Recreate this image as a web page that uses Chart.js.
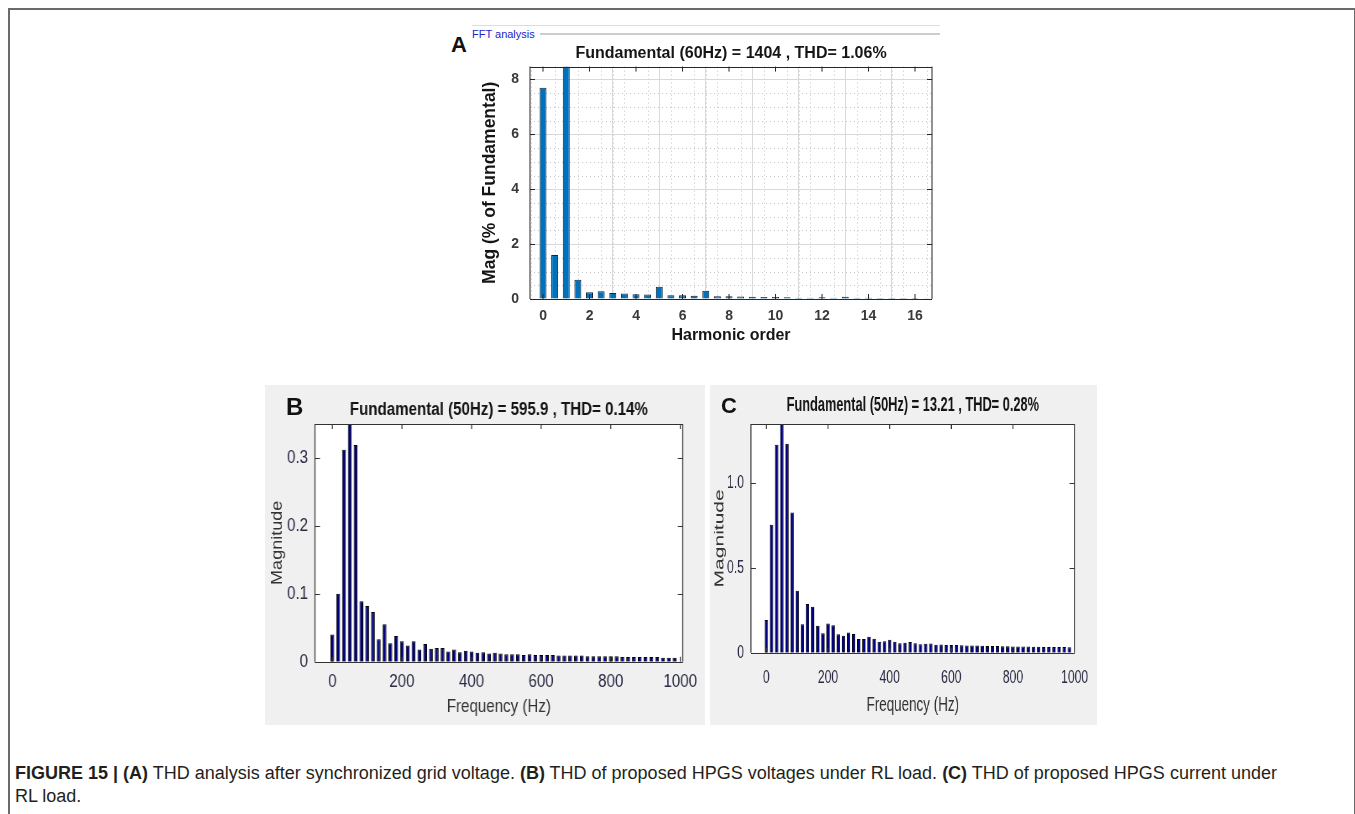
<!DOCTYPE html>
<html><head><meta charset="utf-8">
<script src="https://cdn.jsdelivr.net/npm/chart.js@4.4.1/dist/chart.umd.min.js"></script>
<style>
body{margin:0;background:#fff;width:1355px;height:814px;overflow:hidden;position:relative;font-family:"Liberation Sans",Arial,sans-serif;}
.abs{position:absolute}
#frame{left:8px;top:8px;width:1344px;height:900px;border-left:2px solid #6a6a6a;border-top:2px solid #6a6a6a;border-right:2px solid #6a6a6a;}
#panelB{left:265px;top:385px;width:440px;height:340px;background:#f0f0f0}
#panelC{left:710px;top:385px;width:387px;height:340px;background:#f0f0f0}
.letter{position:absolute;font-weight:bold;color:#111;font-family:"Liberation Sans",Arial,sans-serif;line-height:1}
#fft{left:472px;top:29px;font:11px/1 "Liberation Sans",Arial,sans-serif;color:#2323c8}
#ln1{left:472px;top:25px;width:468px;height:1px;background:#dcdcdc}
#ln2{left:540px;top:33px;width:400px;height:2px;background:#cdcdcd}
#cap{left:15px;top:762px;width:1320px;font:18px/23px "Liberation Sans",Arial,sans-serif;color:#231f20;white-space:nowrap}
</style></head><body>
<div id="frame" class="abs"></div>
<div id="ln1" class="abs"></div>
<div id="ln2" class="abs"></div>
<div id="fft" class="abs">FFT analysis</div>
<div class="letter" style="left:451px;top:34px;font-size:22px">A</div>
<canvas id="cA" class="abs" style="left:440px;top:40px" width="510" height="310"></canvas>
<div id="panelB" class="abs"><canvas id="cB" class="abs" style="left:0;top:0;width:440px;height:340px" width="524" height="340"></canvas></div>
<div id="panelC" class="abs"><canvas id="cC" class="abs" style="left:0;top:0;width:387px;height:340px" width="605" height="340"></canvas></div>
<div class="letter" style="left:286px;top:395px;font-size:24px">B</div>
<div class="letter" style="left:721px;top:395px;font-size:22px">C</div>
<div id="cap" class="abs"><b>FIGURE 15 | (A)</b> THD analysis after synchronized grid voltage. <b>(B)</b> THD of proposed HPGS voltages under RL load. <b>(C)</b> THD of proposed HPGS current under<br>RL load.</div>
<script>
// ---------- Panel A data ----------
const titleA = 'Fundamental (60Hz) = 1404 , THD= 1.06%';
const harmonicOrderA = [0,0.5,1,1.5,2,2.5,3,3.5,4,4.5,5,5.5,6,6.5,7,7.5,8,8.5,9,9.5,10,10.5,11,11.5,12,12.5,13,13.5,14,14.5,15,15.5,16,16.5];
const magA = [7.7,1.6,8.47,0.7,0.25,0.28,0.22,0.2,0.17,0.16,0.45,0.14,0.14,0.12,0.3,0.1,0.1,0.09,0.08,0.07,0.07,0.06,0.05,0.05,0.06,0.05,0.08,0.05,0.05,0.04,0.04,0.04,0.04,0.03];
const xTicksA = [0,2,4,6,8,10,12,14,16];
const xTickLabelsA = ['0','2','4','6','8','10','12','14','16'];
const yTicksA = [0,2,4,6,8];
const yTickLabelsA = ['0','2','4','6','8'];

// ---------- Panels B / C data ----------
const titleB = 'Fundamental (50Hz) = 595.9 , THD= 0.14%';
const titleC = 'Fundamental (50Hz) = 13.21 , THD= 0.28%';
const freqHz = [0,16.7,33.3,50,66.7,83.3,100,116.7,133.3,150,166.7,183.3,200,216.7,233.3,250,266.7,283.3,300,316.7,333.3,350,366.7,383.3,400,416.7,433.3,450,466.7,483.3,500,516.7,533.3,550,566.7,583.3,600,616.7,633.3,650,666.7,683.3,700,716.7,733.3,750,766.7,783.3,800,816.7,833.3,850,866.7,883.3,900,916.7,933.3,950,966.7,983.3];
const magB = [0.040,0.100,0.312,0.35,0.319,0.089,0.082,0.073,0.033,0.055,0.027,0.038,0.030,0.024,0.030,0.018,0.026,0.019,0.020,0.020,0.015,0.018,0.014,0.016,0.015,0.013,0.014,0.012,0.013,0.012,
  0.011,0.011,0.011,0.010,0.011,0.010,0.010,0.010,0.010,0.009,0.009,0.009,0.009,0.009,0.008,0.008,0.008,0.008,0.008,0.008,0.007,0.007,0.007,0.007,0.007,0.007,0.007,0.006,0.006,0.006];
const magC = [0.192,0.753,1.223,1.345,1.229,0.824,0.364,0.168,0.286,0.270,0.159,0.115,0.172,0.162,0.108,0.100,0.119,0.110,0.080,0.080,0.094,0.082,0.065,0.068,0.076,0.065,0.055,0.059,0.063,0.055,
  0.050,0.052,0.054,0.047,0.048,0.046,0.045,0.045,0.044,0.043,0.042,0.042,0.041,0.040,0.040,0.039,0.038,0.038,0.037,0.037,0.036,0.036,0.035,0.035,0.034,0.034,0.034,0.033,0.033,0.032];
const xTicksHz = [0,200,400,600,800,1000];
const xTickLabelsHz = ['0','200','400','600','800','1000'];
const yTicksB = [0,0.1,0.2,0.3];
const yTickLabelsB = ['0','0.1','0.2','0.3'];
const yTicksC = [0,0.5,1.0];
const yTickLabelsC = ['0','0.5','1.0'];

// ---------- Plugin: plot background, minor grid, box, inward ticks ----------
const mframe = {
  id: 'mframe',
  beforeDraw(chart, args, o) {
    const {ctx, chartArea: a} = chart;
    const xs = chart.scales.x, ys = chart.scales.y;
    ctx.save();
    ctx.fillStyle = '#ffffff';
    ctx.fillRect(a.left, a.top, a.right - a.left, a.bottom - a.top);
    if (o.minor) {
      ctx.strokeStyle = o.minor.color; ctx.lineWidth = 1; ctx.setLineDash(o.minor.dash);
      const isMajor = (v, m) => Math.abs(v / m - Math.round(v / m)) < 1e-6;
      for (let k = Math.ceil(xs.min / o.minor.x); k * o.minor.x <= xs.max; k++) {
        const v = k * o.minor.x; if (isMajor(v, o.minor.majorX)) continue;
        const p = Math.round(xs.getPixelForValue(v)) + 0.5;
        ctx.beginPath(); ctx.moveTo(p, a.top); ctx.lineTo(p, a.bottom); ctx.stroke();
      }
      for (let k = Math.ceil(ys.min / o.minor.y); k * o.minor.y <= ys.max; k++) {
        const v = k * o.minor.y; if (isMajor(v, o.minor.majorY)) continue;
        const p = Math.round(ys.getPixelForValue(v)) + 0.5;
        ctx.beginPath(); ctx.moveTo(a.left, p); ctx.lineTo(a.right, p); ctx.stroke();
      }
    }
    ctx.restore();
  },
  afterDatasetsDraw(chart, args, o) {
    const {ctx, chartArea: a} = chart;
    const xs = chart.scales.x, ys = chart.scales.y;
    const sx = o.sx || 1;           // horizontal squeeze applied by CSS
    const vw = 1 / sx;              // keeps vertical strokes ~1px after squeeze
    const L = o.tickLen;
    ctx.save();
    ctx.strokeStyle = o.color;
    ctx.lineWidth = vw; ctx.beginPath();
    xs.ticks.forEach(t => {
      const p = xs.getPixelForValue(t.value);
      ctx.moveTo(p, a.bottom); ctx.lineTo(p, a.bottom - L);
      ctx.moveTo(p, a.top); ctx.lineTo(p, a.top + L);
    });
    ctx.moveTo(a.left, a.top); ctx.lineTo(a.left, a.bottom);
    ctx.moveTo(a.right, a.top); ctx.lineTo(a.right, a.bottom);
    ctx.stroke();
    ctx.lineWidth = 1; ctx.beginPath();
    ys.ticks.forEach(t => {
      const p = Math.round(ys.getPixelForValue(t.value)) + 0.5;
      ctx.moveTo(a.left, p); ctx.lineTo(a.left + L / sx, p);
      ctx.moveTo(a.right, p); ctx.lineTo(a.right - L / sx, p);
    });
    const tp = Math.round(a.top) + 0.5, bp = Math.round(a.bottom) + 0.5;
    ctx.moveTo(a.left, tp); ctx.lineTo(a.right, tp);
    ctx.moveTo(a.left, bp); ctx.lineTo(a.right, bp);
    ctx.stroke();
    ctx.restore();
  }
};
Chart.register(mframe);

function makeChart(id, cfg) {
  const fam = cfg.fontFamily;
  return new Chart(document.getElementById(id), {
    type: 'bar',
    data: { datasets: [{
      data: cfg.xs.map((x, i) => ({ x: x, y: cfg.ys[i] })),
      backgroundColor: cfg.fill, borderColor: cfg.edge, borderWidth: cfg.edgeW,
      barPercentage: cfg.barPct, categoryPercentage: 1
    }]},
    options: {
      responsive: false, animation: false, devicePixelRatio: 1,
      layout: { padding: { left: 0, right: cfg.padRight, top: cfg.padTop, bottom: 0 } },
      plugins: {
        legend: { display: false }, tooltip: { enabled: false },
        title: { display: true, text: cfg.title, fullSize: false, color: '#151515',
          font: { family: fam, size: cfg.titleSize, weight: 'bold' },
          padding: { top: 0, bottom: cfg.titleGap } },
        mframe: cfg.frame
      },
      scales: {
        x: {
          type: 'linear', min: cfg.xMin, max: cfg.xMax, offset: false,
          afterBuildTicks: s => { s.ticks = cfg.xTicks.map(v => ({ value: v })); },
          afterFit: s => { s.height = cfg.xAxisH; },
          grid: { display: cfg.grid, color: '#d9d9d9', drawTicks: false },
          border: { display: false },
          ticks: { autoSkip: false, maxRotation: 0, padding: cfg.xTickPad, color: cfg.tickColor,
            font: { family: fam, size: cfg.tickSize, weight: cfg.tickWeight },
            callback: (v, i) => cfg.xLabels[i] },
          title: { display: true, text: cfg.xTitle, color: cfg.axisTitleColor,
            font: { family: fam, size: cfg.xTitleSize, weight: cfg.tickWeight },
            padding: { top: 0, bottom: cfg.xTitlePad } }
        },
        y: {
          type: 'linear', min: 0, max: cfg.yMax,
          afterBuildTicks: s => { s.ticks = cfg.yTicks.map(v => ({ value: v })); },
          afterFit: s => { s.width = cfg.yAxisW; },
          grid: { display: cfg.grid, color: '#d9d9d9', drawTicks: false },
          border: { display: false },
          ticks: { autoSkip: false, padding: cfg.yTickPad, color: cfg.tickColor,
            font: { family: fam, size: cfg.tickSize, weight: cfg.tickWeight },
            callback: (v, i) => cfg.yLabels[i] },
          title: { display: true, text: cfg.yTitle, color: cfg.axisTitleColor,
            font: { family: fam, size: cfg.yTitleSize, weight: cfg.tickWeight },
            padding: { top: cfg.yTitlePad, bottom: 0 } }
        }
      }
    }
  });
}

const sans = '"Liberation Sans", Arial, sans-serif';
const sB = 440 / 524;   // horizontal squeeze of panel B canvas (condensed MATLAB look)
const sC = 387 / 605;   // horizontal squeeze of panel C canvas

makeChart('cA', {
  xs: harmonicOrderA, ys: magA, fill: '#0072BD', edge: '#14273a', edgeW: 1, barPct: 0.6,
  title: titleA, titleSize: 16, titleGap: 3.5, padTop: 3.9, padRight: 18,
  xMin: -0.56, xMax: 16.73, yMax: 8.47,
  xTicks: xTicksA, xLabels: xTickLabelsA, yTicks: yTicksA, yLabels: yTickLabelsA,
  xAxisH: 51, yAxisW: 90, grid: true,
  fontFamily: sans, tickSize: 14, tickWeight: 'bold', tickColor: '#3a3a3a',
  xTickPad: 9, yTickPad: 11,
  xTitle: 'Harmonic order', yTitle: 'Mag (% of Fundamental)', xTitleSize: 16, yTitleSize: 17.5, axisTitleColor: '#151515',
  xTitlePad: 4.5, yTitlePad: 39.5,
  frame: { color: '#262626', tickLen: 5, sx: 1, minor: { x: 0.5, y: 0.5, majorX: 2, majorY: 2, color: '#c4c4c4', dash: [1, 3] } }
});

makeChart('cB', {
  xs: freqHz, ys: magB, fill: '#000080', edge: '#000000', edgeW: 1, barPct: 0.66,
  title: titleB, titleSize: 18, titleGap: 3.2, padTop: 14.2, padRight: 22,
  xMin: -50, xMax: 1007, yMax: 0.35,
  xTicks: xTicksHz, xLabels: xTickLabelsHz, yTicks: yTicksB, yLabels: yTickLabelsB,
  xAxisH: 63.3, yAxisW: 59.5, grid: false,
  fontFamily: sans, tickSize: 18, tickWeight: 'normal', tickColor: '#2a2a44',
  xTickPad: 9.2, yTickPad: 8.3,
  xTitle: 'Frequency (Hz)', yTitle: 'Magnitude', xTitleSize: 18, yTitleSize: 18, axisTitleColor: '#333333',
  xTitlePad: 7.5, yTitlePad: 4.7,
  frame: { color: '#333333', tickLen: 5, sx: sB }
});

makeChart('cC', {
  xs: freqHz, ys: magC, fill: '#000080', edge: '#000000', edgeW: 1, barPct: 0.66,
  title: titleC, titleSize: 20, titleGap: 6.3, padTop: 8.7, padRight: 25.3,
  xMin: -50, xMax: 1000, yMax: 1.345,
  xTicks: xTicksHz, xLabels: xTickLabelsHz, yTicks: yTicksC, yLabels: yTickLabelsC,
  xAxisH: 72.3, yAxisW: 64, grid: false,
  fontFamily: sans, tickSize: 19, tickWeight: 'normal', tickColor: '#2a2a44',
  xTickPad: 13.9, yTickPad: 11,
  xTitle: 'Frequency (Hz)', yTitle: 'Magnitude', xTitleSize: 21, yTitleSize: 21, axisTitleColor: '#333333',
  xTitlePad: 7.4, yTitlePad: 3,
  frame: { color: '#333333', tickLen: 5, sx: sC }
});
</script>
</body></html>
